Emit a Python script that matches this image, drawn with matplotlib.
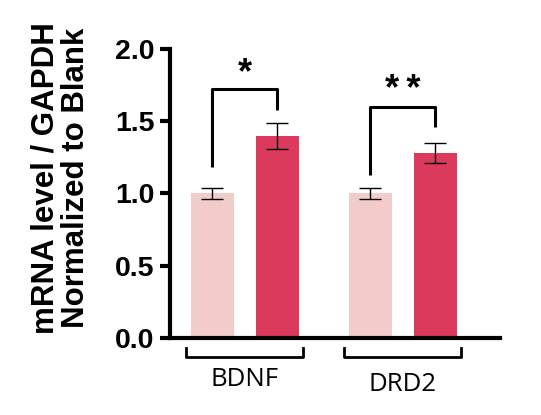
import matplotlib as mpl; mpl.use('Agg')
import matplotlib.pyplot as plt
import matplotlib.transforms as mtransforms
import numpy as np

# data
genes = ['BDNF', 'DRD2']
blank_mean = [1.00, 1.00]
blank_err = [0.04, 0.04]
treat_mean = [1.40, 1.28]
treat_err = [0.09, 0.07]
sig_labels = ['*', '*\u2009*']
# bracket heights: left leg bottom, top, right leg bottom
sig_left = [1.18, 1.13]
sig_top = [1.72, 1.60]
sig_right = [1.58, 1.46]

c_blank = '#F2CCCB'
c_treat = '#DC3A5C'

fig = plt.figure(figsize=(5.41, 4.15), dpi=100)
ax = fig.add_axes([0.314, 0.186, 0.61, 0.696])

x = np.arange(len(genes))
off, w = 0.206, 0.272
ax.bar(x - off, blank_mean, w, color=c_blank, zorder=1)
ax.bar(x + off, treat_mean, w, color=c_treat, zorder=1)
ekw = dict(fmt='none', ecolor='black', elinewidth=1.0, capsize=8, capthick=1.0, zorder=2)
ax.errorbar(x - off, blank_mean, yerr=blank_err, **ekw)
ax.errorbar(x + off, treat_mean, yerr=treat_err, **ekw)

# significance brackets
for i in range(len(genes)):
    xl, xr = x[i] - off, x[i] + off
    ax.plot([xl, xl, xr, xr], [sig_left[i], sig_top[i], sig_top[i], sig_right[i]],
            color='black', lw=2.2, solid_capstyle='butt', clip_on=False)
    ax.text(x[i], sig_top[i] - 0.01, sig_labels[i], ha='center', va='bottom',
            fontsize=26, fontweight='bold', family=['Liberation Sans', 'DejaVu Sans'])

# group brackets below the axis
trans = mtransforms.blended_transform_factory(ax.transData, ax.transAxes)
for i, g in enumerate(genes):
    a, b = x[i] - 0.37, x[i] + 0.37
    ax.plot([a, a, b, b], [-0.035, -0.066, -0.066, -0.035], color='black', lw=2,
            transform=trans, clip_on=False)
    ax.text(x[i], -0.145 - 0.015 * i, g, transform=trans, ha='center', va='center',
            fontsize=18.5, family='Open Sans')

ax.set_xlim(-0.475, 1.614)
ax.set_ylim(0, 2.0)
ax.set_yticks([0, 0.5, 1.0, 1.5, 2.0])
ax.set_yticklabels(['0.0', '0.5', '1.0', '1.5', '2.0'])
ax.set_xticks([])
for s in ['top', 'right']:
    ax.spines[s].set_visible(False)
for s in ['left', 'bottom']:
    ax.spines[s].set_linewidth(3)
ax.tick_params(axis='y', width=3, length=7, labelsize=20.5, pad=4)
for lab in ax.get_yticklabels():
    lab.set_fontweight('bold')
    lab.set_family('Liberation Sans')
ax.set_ylabel('mRNA level / GAPDH\nNormalized to Blank', fontsize=22.5,
              fontweight='bold', family='Liberation Sans', linespacing=1.0)
ax.yaxis.set_label_coords(-0.24, 0.553)

fig.savefig('out.png', dpi=100)
